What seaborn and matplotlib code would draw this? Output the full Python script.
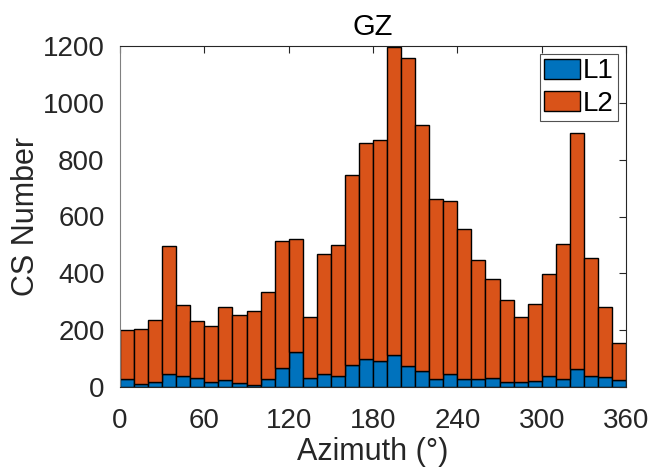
import numpy as np
import pandas as pd
import matplotlib
matplotlib.use("Agg")
import matplotlib.pyplot as plt
import seaborn as sns
from matplotlib.patches import Patch

# Bin starts (degrees), 10-degree bins
azimuth_bins = list(range(0, 360, 10))
L1 = [29, 12, 19, 44, 40, 32, 19, 25, 13, 8, 27, 66, 124, 31, 45, 38, 76, 98,
      92, 112, 75, 56, 27, 47, 29, 27, 33, 19, 16, 22, 40, 27, 65, 38, 34, 26]
total = [201, 204, 236, 495, 287, 234, 213, 280, 252, 266, 336, 515, 522, 248, 469, 498, 746, 858,
         869, 1198, 1159, 922, 661, 654, 555, 448, 379, 305, 247, 291, 396, 504, 894, 455, 281, 156]
L2 = [t - a for t, a in zip(total, L1)]

xticks = [0, 60, 120, 180, 240, 300, 360]
yticks = [0, 200, 400, 600, 800, 1000, 1200]

sns.set_theme(style="white")
plt.rcParams['font.family'] = ['Liberation Sans', 'DejaVu Sans']

df = pd.DataFrame({
    "Azimuth": [b + 5 for b in azimuth_bins] * 2,
    "Count": L1 + L2,
    "Layer": ["L1"] * len(L1) + ["L2"] * len(L2),
})

fig = plt.figure(figsize=(6.49, 4.76), dpi=100)
ax = fig.add_axes([120/649, 89/476, 506/649, 341/476])

sns.histplot(data=df, x="Azimuth", weights="Count", hue="Layer",
             hue_order=["L2", "L1"], multiple="stack",
             bins=36, binrange=(0, 360),
             palette={"L1": "#0072BD", "L2": "#D95319"},
             edgecolor="black", linewidth=1.0, alpha=1.0, ax=ax, legend=False)

handles = [Patch(facecolor="#0072BD", edgecolor="black", label="L1"),
           Patch(facecolor="#D95319", edgecolor="black", label="L2")]
leg = ax.legend(handles=handles, loc="upper right", prop={"size": 20},
                frameon=True, fancybox=False, edgecolor="#262626",
                handlelength=1.3, handleheight=0.75,
                handletextpad=0.1, borderpad=0.15, labelspacing=0.22,
                borderaxespad=0.3)
leg.get_frame().set_linewidth(0.8)
for t in leg.get_texts():
    t.set_color("black")

ax.set_xlim(0, 360)
ax.set_ylim(0, 1200)
ax.set_xticks(xticks)
ax.set_yticks(yticks)
ax.tick_params(direction="in", length=5, width=0.8, colors="#262626",
               labelsize=20, top=True, right=True, labelcolor="#262626")
ax.tick_params(axis="x", pad=15)
ax.tick_params(axis="y", pad=11)
for s in ax.spines.values():
    s.set_visible(True)
    s.set_color("#262626")
    s.set_linewidth(0.8)
ax.spines["left"].set_color("#808080")
ax.set_xlabel("Azimuth (°)", fontsize=22, color="#262626", labelpad=2)
ax.set_ylabel("CS Number", fontsize=22, color="#262626", labelpad=1)
ax.set_title("GZ", fontsize=21, color="black", pad=8)
ax.grid(False)

fig.savefig("out.png", dpi=100)
